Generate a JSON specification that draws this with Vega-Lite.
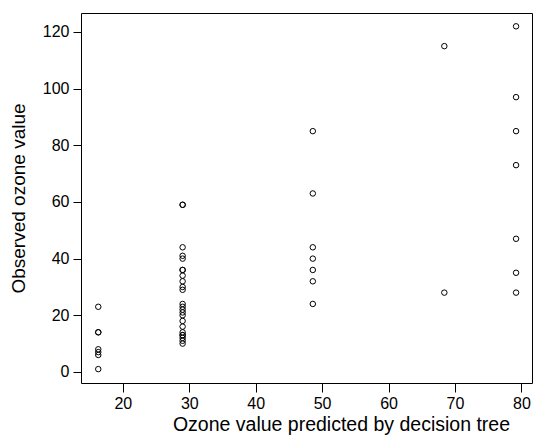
{
  "$schema": "https://vega.github.io/schema/vega-lite/v6.json",
  "autosize": {"type": "none"},
  "width": 451,
  "height": 370,
  "padding": {"left": 81, "top": 13, "right": 2, "bottom": 59},
  "background": "white",
  "config": {
    "view": {"stroke": "black", "strokeWidth": 1},
    "font": "Liberation Sans"
  },
  "data": {
    "values": [
      {"pred": 16.3, "obs": 23}, {"pred": 16.3, "obs": 14}, {"pred": 16.3, "obs": 14},
      {"pred": 16.3, "obs": 8}, {"pred": 16.3, "obs": 7}, {"pred": 16.3, "obs": 6},
      {"pred": 16.3, "obs": 1},
      {"pred": 29.0, "obs": 59}, {"pred": 29.0, "obs": 59}, {"pred": 29.0, "obs": 44},
      {"pred": 29.0, "obs": 41}, {"pred": 29.0, "obs": 40}, {"pred": 29.0, "obs": 36},
      {"pred": 29.0, "obs": 36}, {"pred": 29.0, "obs": 34}, {"pred": 29.0, "obs": 32},
      {"pred": 29.0, "obs": 30}, {"pred": 29.0, "obs": 29}, {"pred": 29.0, "obs": 24},
      {"pred": 29.0, "obs": 23}, {"pred": 29.0, "obs": 22}, {"pred": 29.0, "obs": 21},
      {"pred": 29.0, "obs": 20}, {"pred": 29.0, "obs": 18}, {"pred": 29.0, "obs": 16},
      {"pred": 29.0, "obs": 14}, {"pred": 29.0, "obs": 13}, {"pred": 29.0, "obs": 13},
      {"pred": 29.0, "obs": 12}, {"pred": 29.0, "obs": 11}, {"pred": 29.0, "obs": 10},
      {"pred": 48.6, "obs": 85}, {"pred": 48.6, "obs": 63}, {"pred": 48.6, "obs": 44},
      {"pred": 48.6, "obs": 40}, {"pred": 48.6, "obs": 36}, {"pred": 48.6, "obs": 32},
      {"pred": 48.6, "obs": 24},
      {"pred": 68.4, "obs": 115}, {"pred": 68.4, "obs": 28},
      {"pred": 79.2, "obs": 122}, {"pred": 79.2, "obs": 97}, {"pred": 79.2, "obs": 85},
      {"pred": 79.2, "obs": 73}, {"pred": 79.2, "obs": 47}, {"pred": 79.2, "obs": 35},
      {"pred": 79.2, "obs": 28}
    ]
  },
  "mark": {"type": "point", "shape": "circle", "filled": false, "stroke": "black", "strokeWidth": 1, "size": 30, "opacity": 1},
  "encoding": {
    "x": {
      "field": "pred", "type": "quantitative",
      "scale": {"domain": [13.7, 81.6], "nice": false, "zero": false},
      "axis": {
        "title": "Ozone value predicted by decision tree",
        "values": [20, 30, 40, 50, 60, 70, 80],
        "grid": false, "domain": false,
        "tickSize": 9, "tickColor": "black", "tickWidth": 1,
        "labelFontSize": 16, "labelColor": "black", "labelPadding": 3,
        "titleFontSize": 19.5, "titleFontWeight": "normal", "titleColor": "black", "titlePadding": 4,
        "titleX": 260
      }
    },
    "y": {
      "field": "obs", "type": "quantitative",
      "scale": {"domain": [-3.9, 126.7], "nice": false, "zero": false},
      "axis": {
        "title": "Observed ozone value",
        "values": [0, 20, 40, 60, 80, 100, 120],
        "grid": false, "domain": false,
        "tickSize": 8, "tickColor": "black", "tickWidth": 1,
        "labelFontSize": 16, "labelColor": "black", "labelPadding": 4,
        "titleFontSize": 19, "titleFontWeight": "normal", "titleColor": "black", "titlePadding": 14
      }
    }
  }
}
